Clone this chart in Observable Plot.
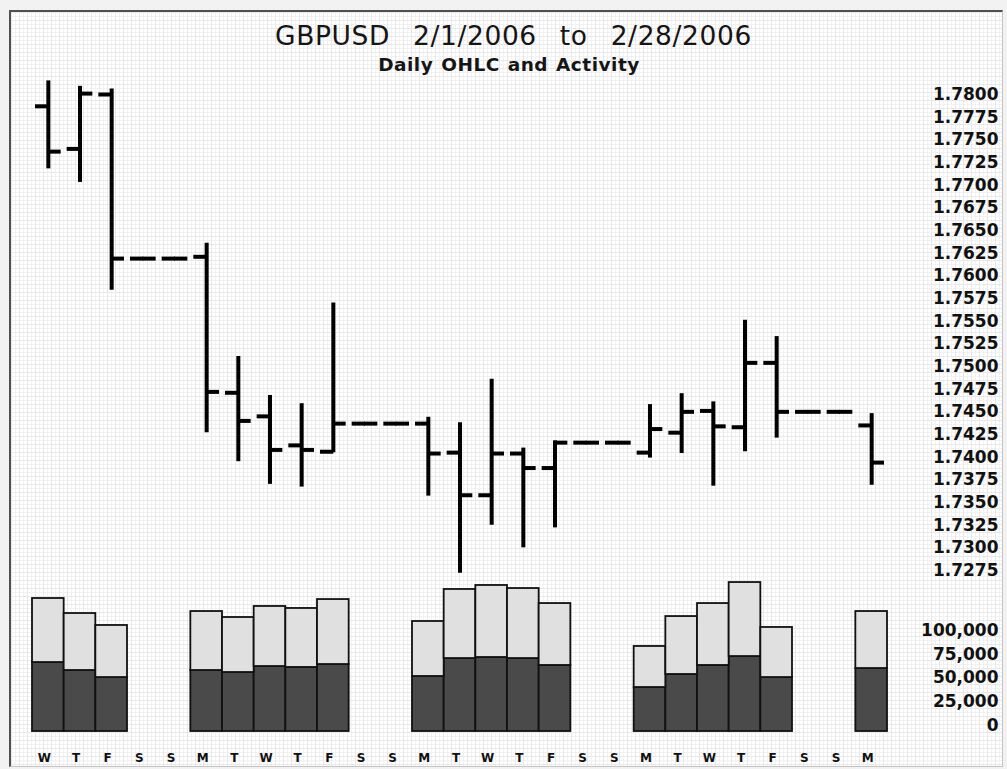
<!DOCTYPE html>
<html><head><meta charset="utf-8">
<script src="https://cdn.jsdelivr.net/npm/d3@7"></script>
<script src="https://cdn.jsdelivr.net/npm/@observablehq/plot@0.6"></script>
<style>
body{margin:0;background:#f2f2f2;}
#wrap{position:relative;width:1007px;height:769px;overflow:hidden;font-family:"DejaVu Sans",Verdana,sans-serif;}
#frame{position:absolute;left:9px;top:10px;width:991px;height:754px;border-top:2px solid #505050;border-left:2px solid #505050;border-right:1px solid #c4c4c4;border-bottom:1px solid #c4c4c4;background-color:#fff;
background-image:linear-gradient(#e8e8e8 1px,transparent 1px),linear-gradient(90deg,#e8e8e8 1px,transparent 1px),linear-gradient(#f2f2f2 1px,transparent 1px),linear-gradient(90deg,#f2f2f2 1px,transparent 1px);
background-size:8px 8px,8px 8px,4px 4px,4px 4px;}
#title{position:absolute;left:0;width:1027px;top:22px;text-align:center;font-size:26.5px;line-height:27px;word-spacing:14px;letter-spacing:0.6px;color:#151515;white-space:nowrap;}
#subtitle{position:absolute;left:0;width:1018px;top:55px;text-align:center;font-size:18.5px;line-height:19px;letter-spacing:0.5px;word-spacing:1px;font-weight:bold;color:#151515;white-space:nowrap;}
.chart{position:absolute;left:0;top:0;}
</style>
</head><body>
<div id="wrap">
  <div id="frame"></div>
  <div id="title">GBPUSD 2/1/2006 to 2/28/2006</div>
  <div id="subtitle">Daily OHLC and Activity</div>
  <div id="price" class="chart"></div>
  <div id="vol" class="chart"></div>
</div>
<script>
const days = [1,2,3,4,5,6,7,8,9,10,11,12,13,14,15,16,17,18,19,20,21,22,23,24,25,26,27];
const dayLabels = ["W","T","F","S","S","M","T","W","T","F","S","S","M","T","W","T","F","S","S","M","T","W","T","F","S","S","M"];

const open  = [1.7787,1.7740,1.7800,1.7619,1.7619,1.7621,1.7471,1.7445,1.7413,1.7406,1.7437,1.7437,1.7437,1.7405,1.7358,1.7404,1.7388,1.7416,1.7416,1.7405,1.7427,1.7451,1.7433,1.7504,1.7450,1.7450,1.7435];
const high  = [1.7815,1.7809,1.7806,1.7619,1.7619,1.7636,1.7511,1.7468,1.7459,1.7570,1.7437,1.7437,1.7444,1.7438,1.7486,1.7410,1.7418,1.7416,1.7416,1.7458,1.7470,1.7461,1.7551,1.7533,1.7450,1.7450,1.7448];
const low   = [1.7718,1.7703,1.7584,1.7619,1.7619,1.7427,1.7395,1.7370,1.7367,1.7405,1.7437,1.7437,1.7357,1.7272,1.7325,1.7300,1.7322,1.7416,1.7416,1.7399,1.7404,1.7368,1.7406,1.7421,1.7450,1.7450,1.7369];
const close = [1.7737,1.7801,1.7619,1.7619,1.7619,1.7472,1.7440,1.7408,1.7408,1.7437,1.7437,1.7437,1.7404,1.7358,1.7404,1.7388,1.7416,1.7416,1.7416,1.7431,1.7450,1.7434,1.7504,1.7450,1.7450,1.7450,1.7394];

const volDark  = [72600,64200,56800,0,0,64200,62100,68400,67400,70500,0,0,57900,76800,77900,76800,69500,0,0,46300,60000,69500,78900,56800,0,0,66300];
const volTotal = [140000,124200,111600,0,0,126300,120000,131600,129500,138900,0,0,115800,149500,153700,150500,134700,0,0,89500,121000,134700,156800,109500,0,0,126300];

const priceTicks = [1.7275,1.7300,1.7325,1.7350,1.7375,1.7400,1.7425,1.7450,1.7475,1.7500,1.7525,1.7550,1.7575,1.7600,1.7625,1.7650,1.7675,1.7700,1.7725,1.7750,1.7775,1.7800];
const volTicks = [0,25000,50000,75000,100000];

const rows = days.map((d,i) => ({day:d, open:open[i], high:high[i], low:low[i], close:close[i], volDark:volDark[i], volTotal:volTotal[i]}));

const xRange = [32, 887];
const bw = (xRange[1]-xRange[0]) / days.length;
const baseStyle = {background:"transparent", fontFamily:"'DejaVu Sans', Verdana, sans-serif", fontSize:"17px", fontWeight:"bold", color:"#111", overflow:"visible"};

const price = Plot.plot({
  width:1007, height:769, marginLeft:0, marginRight:9, marginTop:94, marginBottom:199,
  style: baseStyle,
  x:{type:"band", domain:days, range:xRange, padding:0, round:false, axis:null},
  y:{domain:[1.7275,1.78], range:[570,94]},
  marks:[
    Plot.axisY({anchor:"right", ticks:priceTicks, tickSize:0, tickPadding:0, textAnchor:"end", tickFormat:d3.format(".4f"), label:null}),
    Plot.ruleX(rows, {x:"day", y1:"low", y2:"high", stroke:"#000", strokeWidth:4}),
    Plot.tickY(rows, {x:"day", y:"open", stroke:"#000", strokeWidth:4, insetLeft:3, insetRight:bw/2 - 0.5}),
    Plot.tickY(rows, {x:"day", y:"close", stroke:"#000", strokeWidth:4, insetLeft:bw/2 - 0.5, insetRight:3})
  ]
});
document.getElementById("price").appendChild(price);

const vol = Plot.plot({
  width:1007, height:769, marginLeft:0, marginRight:9, marginTop:0, marginBottom:38,
  style: baseStyle,
  x:{type:"band", domain:days, range:xRange, padding:0, round:false},
  y:{domain:[0,100000], range:[731,636]},
  marks:[
    Plot.axisY({anchor:"right", ticks:volTicks, tickSize:0, tickPadding:0, textAnchor:"end", tickFormat:d3.format(","), dy:-6, label:null}),
    Plot.axisX({tickSize:0, tickPadding:22, tickFormat:d => dayLabels[d-1], fontSize:12, dx:-4, label:null}),
    Plot.barY(rows, {x:"day", y1:0, y2:"volDark", fill:"#4a4a4a", stroke:"#111", strokeWidth:1.8}),
    Plot.barY(rows, {x:"day", y1:"volDark", y2:"volTotal", fill:"#e0e0e0", stroke:"#111", strokeWidth:1.8})
  ]
});
document.getElementById("vol").appendChild(vol);
</script>
</body></html>
